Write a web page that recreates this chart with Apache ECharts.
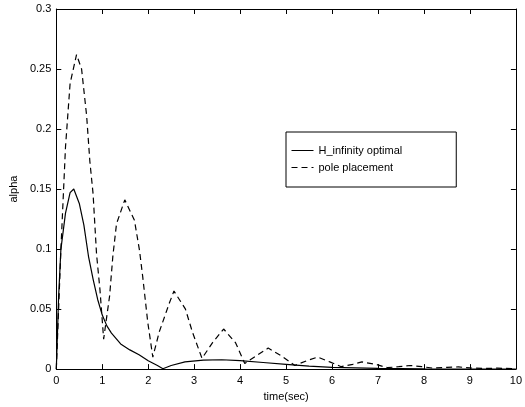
<!DOCTYPE html>
<html>
<head>
<meta charset="utf-8">
<script src="https://cdn.jsdelivr.net/npm/echarts@6/dist/echarts.min.js"></script>
<style>html,body{margin:0;padding:0;background:#fff}#c{width:525px;height:407px}</style>
</head>
<body>
<div id="c"></div>
<script>
var seriesNames = ['H_infinity optimal', 'pole placement'];
var hinfT = [0,0.05,0.1,0.2,0.3,0.38,0.5,0.6,0.7,0.8,0.9,1.0,1.1,1.2,1.4,1.6,1.8,2.0,2.2,2.32,2.5,2.8,3.2,3.6,4.0,4.5,5.0,5.5,6.0,7.0,8.0,9.0,10];
var hinfY = [0,0.06,0.1,0.13,0.147,0.15,0.138,0.12,0.094,0.075,0.058,0.045,0.036,0.03,0.021,0.016,0.012,0.007,0.003,0.0003,0.003,0.006,0.0075,0.0078,0.007,0.0055,0.004,0.0025,0.0015,0.0006,0.0002,0.0001,0];
var poleT = [0,0.1,0.2,0.3,0.44,0.55,0.66,0.73,0.8,0.875,0.95,1.03,1.16,1.23,1.31,1.49,1.7,1.81,1.88,1.99,2.1,2.24,2.46,2.56,2.81,2.96,3.17,3.4,3.64,3.9,4.1,4.35,4.61,4.9,5.19,5.45,5.69,5.95,6.2,6.45,6.65,6.95,7.2,7.45,7.7,7.95,8.2,8.5,8.75,9.0,9.3,9.6,10];
var poleY = [0,0.1,0.185,0.238,0.262,0.25,0.211,0.173,0.146,0.096,0.066,0.025,0.061,0.094,0.121,0.141,0.124,0.099,0.077,0.039,0.01,0.031,0.055,0.065,0.05,0.031,0.009,0.022,0.0334,0.022,0.0047,0.011,0.0175,0.011,0.003,0.007,0.010,0.006,0.002,0.004,0.006,0.004,0.0012,0.002,0.003,0.002,0.0008,0.0015,0.0018,0.001,0.0005,0.0008,0.0003];
var xTicks = [0,1,2,3,4,5,6,7,8,9,10];
var yTicks = [0,0.05,0.1,0.15,0.2,0.25,0.3];

function pairs(t, y){ return t.map(function(v,i){ return [v, y[i]]; }); }

var chart = echarts.init(document.getElementById('c'), null, {renderer:'canvas'});
var font = 'Liberation Sans, Arial, sans-serif';
var axisCommon = {
  axisLine:{show:true, onZero:false, lineStyle:{color:'#000', width:1}},
  axisTick:{show:true, inside:true, length:5, lineStyle:{color:'#000'}},
  splitLine:{show:false}
};
chart.setOption({
  animation:false,
  backgroundColor:'#fff',
  grid:{left:52.5, right:8, top:9, bottom:33, containLabel:false},
  legend:{
    orient:'vertical', left:286, top:132,
    itemWidth:22, itemHeight:10, itemGap:6,
    padding:[13,54,14,5],
    borderColor:'#000', borderWidth:1, backgroundColor:'#fff',
    itemStyle:{opacity:0},
    lineStyle:{width:1},
    textStyle:{fontFamily:font, fontSize:11, color:'#000'},
    data:seriesNames
  },
  xAxis:[
    Object.assign({type:'value', min:0, max:10, interval:1, position:'bottom',
      name:'time(sec)', nameLocation:'middle', nameGap:18,
      nameTextStyle:{fontFamily:font, fontSize:11, color:'#000'},
      axisLabel:{fontFamily:font, fontSize:11, color:'#000', margin:6}}, axisCommon),
    Object.assign({type:'value', min:0, max:10, interval:1, position:'top',
      axisLabel:{show:false}}, axisCommon)
  ],
  yAxis:[
    Object.assign({type:'value', min:0, max:0.3, interval:0.05, position:'left',
      name:'alpha', nameLocation:'middle', nameGap:33, nameRotate:90,
      nameTextStyle:{fontFamily:font, fontSize:11, color:'#000'},
      axisLabel:{fontFamily:font, fontSize:11, color:'#000', margin:5,
        formatter:function(v){ return String(+v.toFixed(2)); }}}, axisCommon),
    Object.assign({type:'value', min:0, max:0.3, interval:0.05, position:'right',
      axisLabel:{show:false}}, axisCommon)
  ],
  series:[
    {name:seriesNames[0], type:'line', data:pairs(hinfT, hinfY), symbol:'none', showSymbol:false,
     lineStyle:{color:'#000', width:1.2, type:'solid'}, itemStyle:{color:'#000'}},
    {name:seriesNames[1], type:'line', data:pairs(poleT, poleY), symbol:'none', showSymbol:false,
     lineStyle:{color:'#000', width:1.2, type:[6,4]}, itemStyle:{color:'#000'}}
  ]
});
</script>
</body>
</html>
